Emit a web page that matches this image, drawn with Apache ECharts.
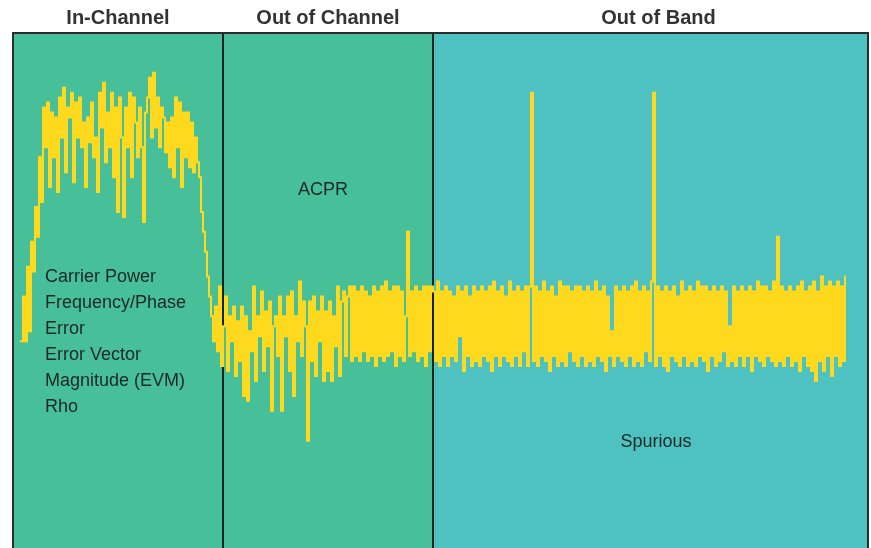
<!DOCTYPE html>
<html>
<head>
<meta charset="utf-8">
<script src="https://cdn.jsdelivr.net/npm/echarts@6/dist/echarts.min.js"></script>
<style>
html,body{margin:0;padding:0;background:#ffffff;}
#chart{width:871px;height:548px;}
</style>
</head>
<body>
<div id="chart"></div>
<script>
// ---- data (frequency bins on x, level in dB on y) ----
const regionNames = ['In-Channel', 'Out of Channel', 'Out of Band'];
const regionEdges = [0, 105, 210, 427.5];
const regionNotes = ['Carrier Power\nFrequency/Phase\nError\nError Vector\nMagnitude (EVM)\nRho', 'ACPR', 'Spurious'];
const traceStartBin = 4;

const inChannel = [
  -62,-53,-62,-47,-60,-42,-48,-35,-41,-25,
  -34,-15,-23,-14,-31,-16,-25,-17,-32,-13,
  -21,-11,-28,-15,-17,-12,-30,-14,-21,-13,
  -23,-18,-31,-17,-22,-14,-25,-21,-32,-12,
  -19,-10,-26,-16,-23,-12,-29,-15,-36,-13,
  -21,-37,-15,-23,-12,-29,-13,-18,-25,-15,
  -23,-38,-16,-13,-9,-21,-8,-19,-13,-23,
  -15,-17,-24,-18,-27,-17,-29,-13,-23,-14,
  -31,-16,-25,-16,-27,-18,-28,-21,-26,-29,
  -36,-40,-44,-49,-53,-57,-62,-55,-64,-51,
  -67
];

const outOfChannel = [
  -59,-53,-68,-57,-62,-55,-69,-58,-66,-55,
  -73,-57,-74,-60,-64,-51,-70,-57,-61,-52,
  -68,-56,-63,-54,-76,-59,-57,-65,-53,-76,
  -57,-61,-53,-68,-52,-73,-57,-62,-50,-65,
  -54,-59,-82,-54,-66,-53,-69,-56,-62,-53,
  -70,-56,-68,-54,-70,-57,-63,-51,-69,-54,
  -52,-65,-53,
  -51,-66,-51,-65,-52,-66,-51,-64,-52,-66,
  -53,-65,-51,-67,-52,-65,-51,-66,-50,-65,
  -52,-64,-51,-67,-51,-65,-52,-66,-57,-40,
  -65,-52,-64,-51,-66,-52,-65,-51,-67,-51,
  -64,-51
];

const outOfBand = [
  -52,-66,-50,-67,-52,-65,-51,-67,-52,-65,
  -53,-66,-51,-61,-52,-68,-51,-65,-53,-67,
  -51,-66,-52,-67,-51,-65,-52,-66,-51,-68,
  -50,-65,-52,-67,-51,-65,-53,-66,-50,-67,
  -52,-65,-51,-67,-52,-64,-51,-67,-51,-12,
  -66,-51,-67,-52,-65,-50,-66,-52,-68,-51,
  -65,-53,-67,-50,-66,-51,-67,-51,-64,-52,
  -66,-51,-67,-51,-65,-52,-67,-51,-66,-52,
  -67,-50,-65,-52,-66,-51,-68,-53,-65,-60,
  -67,-51,-65,-52,-66,-51,-67,-52,-65,-51,
  -67,-50,-66,-52,-67,-51,-64,-52,-66,-50,
  -12,-67,-51,-65,-52,-67,-51,-68,-52,-65,
  -51,-66,-53,-67,-50,-65,-52,-67,-51,-66,
  -52,-67,-50,-65,-51,-66,-51,-68,-52,-65,
  -51,-67,-52,-66,-51,-64,-52,-67,-59,-66,
  -51,-67,-52,-65,-51,-67,-52,-65,-51,-68,
  -52,-65,-50,-66,-51,-67,-51,-65,-52,-66,
  -50,-67,-41,-66,-51,-67,-52,-65,-51,-67,
  -52,-66,-51,-68,-50,-65,-52,-67,-51,-68,
  -50,-70,-52,-66,-49,-68,-51,-65,-50,-69,
  -51,-65,-50,-67,-51,-66,-49
];

// ---- build: each sample becomes a vertical stroke from the previous level to its own level ----
const levels = inChannel.concat(outOfChannel, outOfBand);
const traceRows = levels.map((v, i) => [traceStartBin + i, v, i > 0 ? levels[i - 1] : v]);

const regionColors = ['#47BF98', '#47BF98', '#4EC1C1'];
const traceColor = '#FFD91E';
const headerFont = {color: '#333333', fontSize: 20, fontWeight: 'bold', fontFamily: '"Liberation Sans", Arial, sans-serif'};

const areaData = regionNames.map((name, i) => [
  {name: name, xAxis: regionEdges[i], itemStyle: {color: regionColors[i], opacity: 1},
   label: i === 2 ? {offset: [8, 0]} : {}},
  {xAxis: regionEdges[i + 1]}
]);

const chart = echarts.init(document.getElementById('chart'), null, {renderer: 'canvas'});
const noteStyle = {fill: '#1c2824', font: '18px "Liberation Sans", Arial, sans-serif'};

function renderStroke(params, api) {
  const x = api.value(0);
  const a = api.coord([x, api.value(1)]);
  const b = api.coord([x, api.value(2)]);
  const w = api.size([1, 0])[0];
  const top = Math.min(a[1], b[1]) - 1;
  const h = Math.abs(a[1] - b[1]) + 2;
  return {
    type: 'rect',
    shape: {x: a[0] - w / 2, y: top, width: w, height: h},
    style: {fill: traceColor}
  };
}

chart.setOption({
  animation: false,
  backgroundColor: '#ffffff',
  grid: {left: 13, top: 33, width: 855, height: 518, containLabel: false},
  xAxis: {
    type: 'value', position: 'top', min: regionEdges[0], max: regionEdges[3], z: 10,
    axisLine: {show: true, onZero: false, lineStyle: {color: '#2b2b2b', width: 2}},
    axisTick: {show: false}, axisLabel: {show: false}, splitLine: {show: false}
  },
  yAxis: [
    {type: 'value', position: 'left', min: -103.6, max: 0, z: 10,
     axisLine: {show: true, onZero: false, lineStyle: {color: '#2b2b2b', width: 2}},
     axisTick: {show: false}, axisLabel: {show: false}, splitLine: {show: false}},
    {type: 'value', position: 'right', min: -103.6, max: 0, z: 10,
     axisLine: {show: true, onZero: false, lineStyle: {color: '#2b2b2b', width: 2}},
     axisTick: {show: false}, axisLabel: {show: false}, splitLine: {show: false}}
  ],
  series: [
    {
      type: 'line', data: [], z: 1, silent: true,
      markArea: {
        silent: true, z: 1,
        label: Object.assign({show: true, position: 'top', distance: 5}, headerFont),
        data: areaData
      }
    },
    {
      type: 'line', data: [], z: 3, silent: true,
      markLine: {
        silent: true, z: 3, symbol: ['none', 'none'], animation: false,
        label: {show: false},
        lineStyle: {color: '#13231e', width: 2, type: 'solid'},
        data: [{xAxis: regionEdges[1]}, {xAxis: regionEdges[2]}]
      }
    },
    {
      type: 'custom', z: 6, silent: true,
      renderItem: renderStroke,
      encode: {x: 0, y: [1, 2]},
      data: traceRows
    }
  ],
  graphic: [
    {type: 'text', x: 45, y: 264, z: 20, style: Object.assign({text: regionNotes[0], lineHeight: 26}, noteStyle)},
    {type: 'text', x: 323, y: 190, z: 20, style: Object.assign({text: regionNotes[1], align: 'center', verticalAlign: 'middle'}, noteStyle)},
    {type: 'text', x: 656, y: 442, z: 20, style: Object.assign({text: regionNotes[2], align: 'center', verticalAlign: 'middle'}, noteStyle)}
  ]
});
</script>
</body>
</html>
